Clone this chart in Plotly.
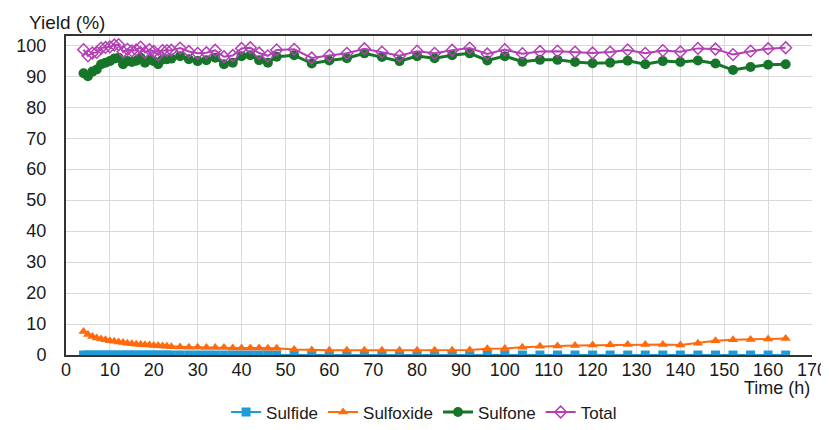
import plotly.graph_objects as go

time_h = [4, 5, 6, 7, 8, 9, 10, 11, 12, 13, 14, 15, 16, 17, 18, 19, 20, 21, 22, 23, 24,
          26, 28, 30, 32, 34, 36, 38, 40, 42, 44, 46, 48,
          52, 56, 60, 64, 68, 72, 76, 80, 84, 88, 92, 96, 100, 104, 108, 112, 116, 120,
          124, 128, 132, 136, 140, 144, 148, 152, 156, 160, 164]

sulfide = [0, 0, 0, 0, 0, 0, 0, 0, 0, 0, 0, 0, 0, 0, 0, 0, 0, 0, 0, 0, 0,
           0, 0, 0, 0, 0, 0, 0, 0, 0, 0, 0, 0,
           0, 0, 0, 0, 0, 0, 0, 0, 0, 0, 0, 0, 0, 0, 0, 0, 0, 0,
           0, 0, 0, 0, 0, 0, 0, 0, 0, 0, 0]

sulfoxide = [7.6, 6.6, 6.0, 5.5, 5.2, 4.9, 4.6, 4.4, 4.2, 4.0, 3.8, 3.6, 3.5, 3.4, 3.3, 3.2, 3.1, 3.0, 2.9, 2.8, 2.7,
             2.6, 2.5, 2.5, 2.4, 2.4, 2.4, 2.3, 2.3, 2.3, 2.3, 2.2, 2.2,
             1.8, 1.6, 1.5, 1.5, 1.5, 1.5, 1.5, 1.5, 1.5, 1.5, 1.6, 2.0, 2.1, 2.5, 2.8, 2.9, 3.1, 3.2,
             3.3, 3.4, 3.4, 3.4, 3.2, 3.8, 4.6, 4.9, 5.0, 5.2, 5.3]

sulfone = [91.0, 90.0, 91.5, 92.2, 93.9, 94.4, 94.9, 95.7, 96.0, 93.9, 94.9, 94.6, 95.0, 96.0, 94.4, 95.4, 94.9, 93.9, 95.4, 95.5, 95.7,
           96.5, 95.5, 94.9, 95.2, 96.0, 93.9, 94.4, 96.5, 96.8, 95.2, 94.4, 96.3,
           96.8, 94.1, 95.1, 95.8, 97.4, 96.2, 94.9, 96.5, 95.8, 96.8, 97.4, 95.1, 96.5, 94.7, 95.3, 95.3, 94.6, 94.2,
           94.4, 95.0, 93.9, 94.9, 94.6, 95.1, 94.1, 92.0, 93.0, 93.7, 93.9]

total = [98.6, 96.6, 97.5, 97.7, 99.1, 99.3, 99.5, 100.1, 100.2, 97.9, 98.7, 98.2, 98.5, 99.4, 97.7, 98.6, 98.0, 96.9, 98.3, 98.3, 98.4,
         99.1, 98.0, 97.4, 97.6, 98.4, 96.3, 96.7, 99.0, 99.2, 97.5, 96.6, 98.5,
         98.7, 95.9, 96.7, 97.4, 98.9, 97.8, 96.6, 98.1, 97.4, 98.4, 99.1, 97.2, 98.6, 97.3, 98.0, 98.1, 97.8, 97.5,
         97.8, 98.5, 97.4, 98.3, 97.9, 99.0, 98.8, 97.0, 98.1, 98.9, 99.2]

x_ticks = [0, 10, 20, 30, 40, 50, 60, 70, 80, 90, 100, 110, 120, 130, 140, 150, 160, 170]
y_ticks = [0, 10, 20, 30, 40, 50, 60, 70, 80, 90, 100]

FONT = "Liberation Sans, Arial, sans-serif"
TXT = "#1a1a1a"

fig = go.Figure()
fig.add_trace(go.Scatter(x=time_h, y=sulfide, name="Sulfide", mode="lines+markers",
                         line=dict(color="#1F9BD7", width=2),
                         marker=dict(symbol="square", size=9, color="#1F9BD7")))
fig.add_trace(go.Scatter(x=time_h, y=sulfoxide, name="Sulfoxide", mode="lines+markers",
                         line=dict(color="#FF6A0D", width=2),
                         marker=dict(symbol="triangle-up", size=9, color="#FF6A0D")))
fig.add_trace(go.Scatter(x=time_h, y=sulfone, name="Sulfone", mode="lines+markers",
                         line=dict(color="#17752A", width=3),
                         marker=dict(symbol="circle", size=10, color="#17752A")))
fig.add_trace(go.Scatter(x=time_h, y=total, name="Total", mode="lines+markers",
                         line=dict(color="#B43FB6", width=2),
                         marker=dict(symbol="diamond-open", size=9, color="#B43FB6",
                                     line=dict(width=1.5, color="#B43FB6"))))

fig.update_layout(
    width=821, height=414,
    margin=dict(l=58, r=17, t=28, b=67, autoexpand=False),
    paper_bgcolor="white", plot_bgcolor="white",
    font=dict(family=FONT, size=18, color=TXT),
    showlegend=True,
    legend=dict(orientation="h", x=0.48, xanchor="center", y=-0.18, yanchor="middle",
                font=dict(size=17, color=TXT)),
    xaxis=dict(range=[0, 170], tickvals=x_ticks, showgrid=True, gridcolor="#D9D9D9",
               gridwidth=1, showline=True, linecolor="#333333", linewidth=2, mirror=True,
               zeroline=False, ticks="", tickfont=dict(size=18), ticklabelstandoff=-3,
               automargin=False, ticklabeloverflow="allow"),
    yaxis=dict(range=[0, 103], tickvals=y_ticks, showgrid=True, gridcolor="#D9D9D9",
               gridwidth=1, showline=True, linecolor="#333333", linewidth=2,
               zeroline=False, ticks="", tickfont=dict(size=18), ticklabelstandoff=14,
               automargin=False),
    annotations=[
        dict(text="Yield (%)", xref="paper", yref="paper", x=-0.052, y=1.0, xanchor="left",
             yanchor="middle", yshift=14, showarrow=False, font=dict(size=19, color=TXT)),
        dict(text="Time (h)", xref="paper", yref="paper", x=1.0, y=0, xanchor="right",
             yanchor="middle", yshift=-33, showarrow=False, font=dict(size=18, color=TXT)),
    ],
)

fig.write_html("out.html")
